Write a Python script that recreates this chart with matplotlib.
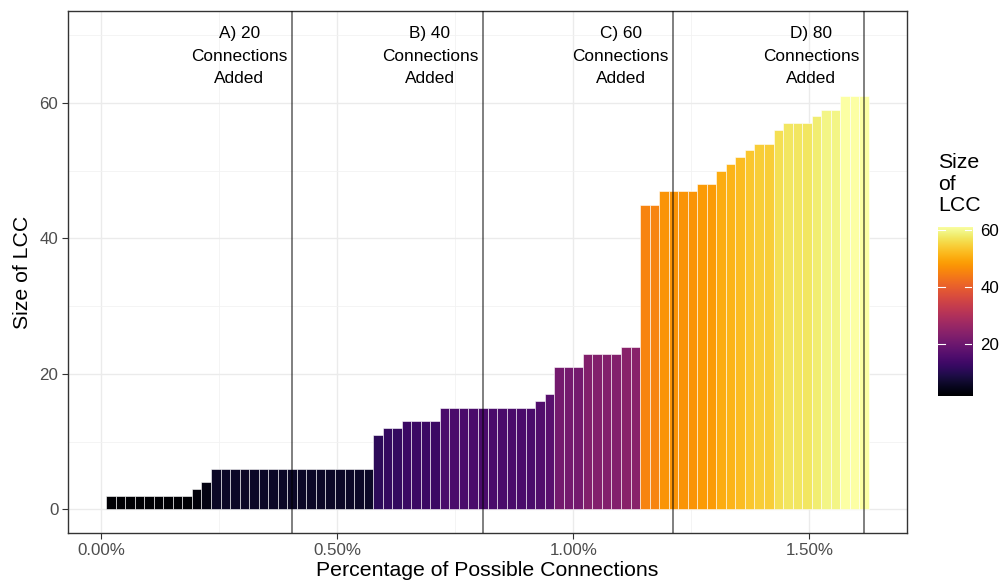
import numpy as np
import matplotlib.pyplot as plt
import matplotlib.colors as mcolors

plt.rcParams['font.family'] = ['Liberation Sans', 'DejaVu Sans']

# data: size of the largest connected component after each added connection
POSSIBLE = 4950  # 100 nodes -> 100*99/2 possible connections
connections = list(range(1, 81))
lcc_size = ([2] * 9 + [3, 4] + [6] * 17 + [11, 12, 12] + [13] * 4 + [15] * 10
            + [16, 17, 21, 21, 21] + [23] * 4 + [24, 24, 45, 45] + [47] * 4
            + [48, 48, 50, 51, 52, 53, 54, 54, 56, 57, 57, 57, 58, 59, 59, 61, 61, 61])
markers = [20, 40, 60, 80]
marker_labels = ["A) 20\nConnections\nAdded", "B) 40\nConnections\nAdded",
                 "C) 60\nConnections\nAdded", "D) 80\nConnections\nAdded"]

x_pct = np.array(connections) / POSSIBLE * 100
step = 100 / POSSIBLE
y = np.array(lcc_size)

fig = plt.figure(figsize=(10.03, 5.86), dpi=100)
ax = fig.add_axes([0.0678, 0.0904, 0.8365, 0.89])

cmap = plt.get_cmap('inferno')
norm = mcolors.Normalize(vmin=y.min(), vmax=y.max())

ax.bar(x_pct, y, width=step, color=cmap(norm(y)), edgecolor='white',
       linewidth=0.4, zorder=2)

for k, lab in zip(markers, marker_labels):
    xv = k / POSSIBLE * 100
    ax.axvline(xv, color='black', alpha=0.5, lw=1.4, zorder=3)
    ax.text(xv - 0.112, 66.9, lab, ha='center', va='center', fontsize=12.4,
            linespacing=1.62, zorder=4)

ax.set_xlim(-0.0707, 1.707)
ax.set_ylim(-3.5, 73.5)
ax.set_xticks([0, 0.5, 1.0, 1.5])
ax.set_xticklabels(["0.00%", "0.50%", "1.00%", "1.50%"])
ax.set_yticks([0, 20, 40, 60])
ax.set_xticks([0.25, 0.75, 1.25], minor=True)
ax.set_yticks([10, 30, 50, 70], minor=True)

ax.grid(which='major', color='#EBEBEB', lw=1.0, zorder=0)
ax.grid(which='minor', color='#F2F2F2', lw=0.6, zorder=0)
ax.set_axisbelow(True)
ax.tick_params(which='major', labelsize=12.2, labelcolor='#4D4D4D', color='#333333',
               length=4, width=0.8, pad=3)
ax.tick_params(which='minor', length=0)
for s in ax.spines.values():
    s.set_color('#333333')
    s.set_linewidth(1.0)

ax.set_xlabel("Percentage of Possible Connections", fontsize=15.3, labelpad=2)
ax.set_ylabel("Size of LCC", fontsize=15.3, labelpad=5)

# colourbar legend
cax = fig.add_axes([0.9352, 0.3242, 0.0339, 0.2884])
grad = np.linspace(y.min(), y.max(), 256).reshape(-1, 1)
cax.imshow(grad, aspect='auto', origin='lower', cmap=cmap, norm=norm,
           extent=[0, 1, y.min(), y.max()])
cax.set_xlim(0, 1)
cax.set_ylim(y.min(), y.max())
for t in [20, 40, 60]:
    cax.plot([0, 0.2], [t, t], color='white', lw=0.8)
    cax.plot([0.8, 1], [t, t], color='white', lw=0.8)
cax.set_xticks([])
cax.set_yticks([20, 40, 60])
cax.yaxis.tick_right()
cax.tick_params(length=0, labelsize=12.2, pad=6)
for s in cax.spines.values():
    s.set_visible(False)
fig.text(0.9352, 0.686, "Size\nof\nLCC", fontsize=15.3, ha='left', va='center',
         linespacing=1.15)

fig.savefig("out.png", dpi=100)
